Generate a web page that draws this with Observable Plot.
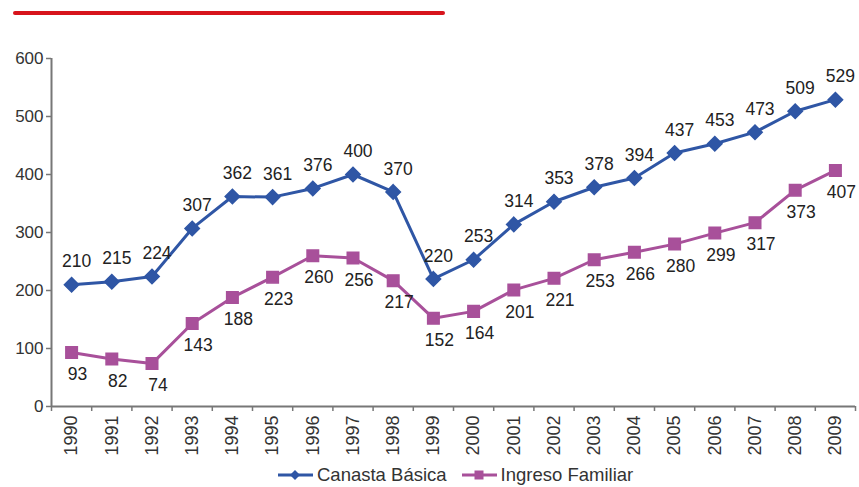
<!DOCTYPE html>
<html>
<head>
<meta charset="utf-8">
<script src="https://cdn.jsdelivr.net/npm/d3@7"></script>
<script src="https://cdn.jsdelivr.net/npm/@observablehq/plot@0.6"></script>
<style>
  html, body { margin: 0; padding: 0; background: #fff; }
  body { width: 859px; height: 487px; position: relative; overflow: hidden; font-family: "Liberation Sans", Arial, sans-serif; }
  #topbar { position: absolute; left: 13px; top: 11px; width: 432px; height: 4px; background: #d7141c; border-radius: 2px; }
  #chart { position: absolute; left: 0; top: 0; }
  #legend { position: absolute; left: 277px; top: 465px; display: flex; align-items: center; font-size: 18.5px; line-height: 19px; color: #333; }
  #legend .item { display: flex; align-items: center; margin-right: 14px; }
  #legend svg { margin-right: 3px; }
</style>
</head>
<body>
<div id="topbar"></div>
<div id="chart"></div>
<div id="legend"></div>
<script>
// Años del periodo
const years = [1990, 1991, 1992, 1993, 1994, 1995, 1996, 1997, 1998, 1999,
               2000, 2001, 2002, 2003, 2004, 2005, 2006, 2007, 2008, 2009];
// Costo de la canasta básica
const canastaBasica = [210, 215, 224, 307, 362, 361, 376, 400, 370, 220,
                       253, 314, 353, 378, 394, 437, 453, 473, 509, 529];
// Ingreso familiar
const ingresoFamiliar = [93, 82, 74, 143, 188, 223, 260, 256, 217, 152,
                         164, 201, 221, 253, 266, 280, 299, 317, 373, 407];
const yTicks = [0, 100, 200, 300, 400, 500, 600];
const seriesNames = ["Canasta Básica", "Ingreso Familiar"];
const seriesColors = ["#2f56a5", "#a8509a"];

const canasta = years.map((y, i) => ({year: y, value: canastaBasica[i]}));
const ingreso = years.map((y, i) => ({year: y, value: ingresoFamiliar[i]}));
const bounds = d3.range(years.length + 1).map(i => years[0] - 0.5 + i);

const font = "Liberation Sans, Arial, sans-serif";

const chart = Plot.plot({
  width: 859,
  height: 466,
  marginLeft: 51,
  marginRight: 4,
  marginTop: 58,
  marginBottom: 60,
  style: {fontFamily: font, background: "transparent"},
  x: {type: "linear", domain: [years[0] - 0.5, years[years.length - 1] + 0.5], label: null},
  y: {domain: [0, 600], label: null},
  marks: [
    // eje Y
    Plot.axisY({ticks: yTicks, label: null, tickSize: 5, tickPadding: 3, fontSize: 17, color: "#333", stroke: "#777", strokeWidth: 1.5}),
    Plot.ruleX([years[0] - 0.5], {stroke: "#777", strokeWidth: 2}),
    // eje X: marcas entre años y etiquetas verticales
    Plot.ruleY([0], {stroke: "#777", strokeWidth: 2}),
    Plot.axisX({ticks: bounds, label: null, tickFormat: () => "", tickSize: 5, stroke: "#777", strokeWidth: 1.5}),
    Plot.axisX({ticks: years, label: null, tickFormat: d => String(d), tickSize: 0, tickPadding: 9, tickRotate: -90, fontSize: 18, color: "#333"}),
    // Canasta básica
    Plot.line(canasta, {x: "year", y: "value", stroke: seriesColors[0], strokeWidth: 3}),
    Plot.dot(canasta, {x: "year", y: "value", symbol: "diamond2", r: 6.5, fill: seriesColors[0], stroke: seriesColors[0]}),
    Plot.text(canasta, {x: "year", y: "value", text: d => String(d.value), dx: 5, dy: -23, fontSize: 17.5, fill: "#222"}),
    // Ingreso familiar
    Plot.line(ingreso, {x: "year", y: "value", stroke: seriesColors[1], strokeWidth: 3}),
    Plot.dot(ingreso, {x: "year", y: "value", symbol: "square", r: 6.5, fill: seriesColors[1], stroke: seriesColors[1]}),
    Plot.text(ingreso, {x: "year", y: "value", text: d => String(d.value), dx: 6, dy: 22, fontSize: 17.5, fill: "#222"})
  ]
});
document.getElementById("chart").appendChild(chart);

// Leyenda
const legend = document.getElementById("legend");
seriesNames.forEach((name, i) => {
  const item = document.createElement("div");
  item.className = "item";
  const shape = i === 0
    ? `<path d="M18 3 L23 8 L18 13 L13 8 Z" fill="${seriesColors[i]}"/>`
    : `<rect x="13.5" y="3.5" width="9" height="9" fill="${seriesColors[i]}"/>`;
  item.innerHTML = `<svg width="37" height="16"><line x1="1" x2="36" y1="8" y2="8" stroke="${seriesColors[i]}" stroke-width="3"/>${shape}</svg><span>${name}</span>`;
  legend.appendChild(item);
});
</script>
</body>
</html>
